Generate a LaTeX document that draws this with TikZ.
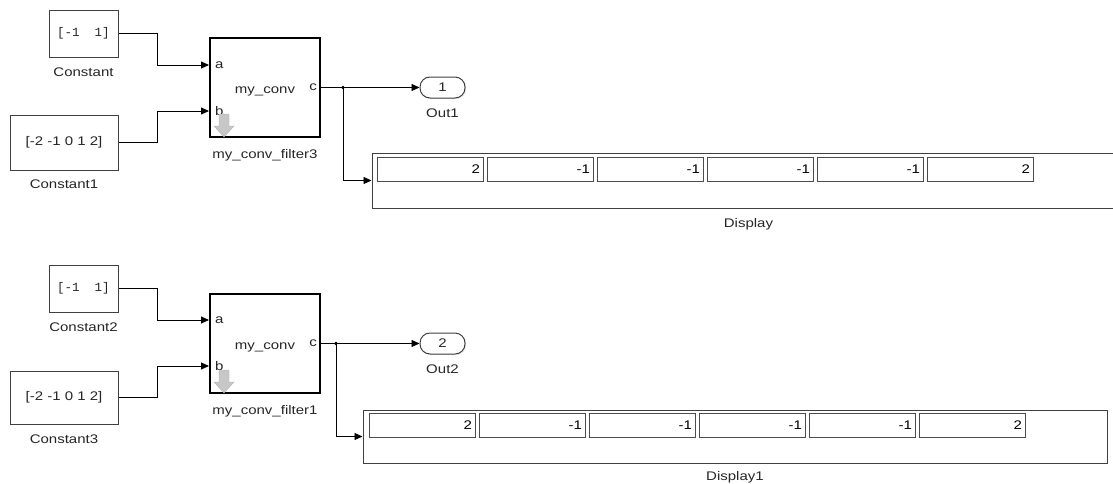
\documentclass[tikz,border=0pt]{standalone}
\usepackage{fontspec}
\setmainfont{Liberation Sans}[FakeStretch=1.2]
\newfontfamily\monofont{Liberation Mono}
\usetikzlibrary{arrows.meta,positioning,calc,shadows}
\newcommand{\blkfont}{\fontsize{12.5}{14}\selectfont}
\tikzset{
  blk/.style={draw=black!75,line width=1pt,fill=white,inner sep=0pt,font=\blkfont,text=black!85,
    drop shadow={opacity=0.18,shadow xshift=1.2pt,shadow yshift=-1.2pt}},
  const/.style={blk,minimum height=47pt},
  conv/.style={blk,draw=black,line width=2pt,minimum width=110pt,minimum height=99pt},
  outport/.style={blk,rounded corners=10pt,minimum width=45pt,minimum height=21pt},
  disp/.style={blk,minimum height=55pt},
  cell/.style={draw=black!70,line width=1pt,fill=white,inner sep=3pt,text width=100pt,align=right,
    minimum height=24pt,font=\blkfont},
  lbl/.style={font=\blkfont,text=black!85,inner sep=0pt,text height=9pt,text depth=2.5pt},
  port/.style={font=\blkfont,text=black!85,inner sep=0pt},
  wire/.style={-{Triangle[length=8pt,width=7pt]},line width=0.9pt},
  line/.style={line width=0.9pt},
  icon/.style={fill=black!22,draw=black!30,line width=0.4pt}
}
% grey arrow glyph in the corner of a block
\newcommand{\convicon}[1]{%
  \filldraw[icon] ($(#1.south west)+(10,-24)$) -- ++(10,0) -- ++(0,12) -- ++(5,0)
    -- ++(-10,11) -- ++(-10,-11) -- ++(5,0) -- cycle;}

\begin{document}
\begin{tikzpicture}[x=1pt,y=-1pt]
  \clip (0,0) rectangle (1113,483);

  % upper model
  \node[const,minimum width=69pt,label={[lbl,label distance=9.5pt]below:Constant}] (c0) at (83.5,33.5) {\monofont\blkfont [-1\ \ 1]};
  \node[const,minimum width=108pt,minimum height=55pt,label={[lbl,label distance=8.5pt]below:Constant1}] (c1) at (64,142.5) {[-2 -1 0 1 2]};
  \node[conv,label={[lbl,label distance=11pt]below:my\_conv\_filter3}] (f3) at (265,87.5) {};
  \node[outport,label={[lbl,label distance=9.5pt]below:Out1}] (o1) at (442.5,87.5) {1};
  \node[disp,minimum width=753pt,label={[lbl,label distance=9.5pt]below:Display}] (d0) at (748.5,180.5) {};
  \foreach \v [count=\i from 0] in {2,-1,-1,-1,-1,2}
    \node[cell] (d0c\i) at ({430+110*\i},169) {\v};

  \coordinate (f3a) at ($(f3.west)+(0,-22.5)$);
  \coordinate (f3b) at ($(f3.west)+(0,23.5)$);
  \node[port,anchor=west] at ($(f3a)+(6,0)$) {a};
  \node[port,anchor=west] at ($(f3b)+(6,0)$) {b};
  \node[port,anchor=east] at ($(f3.east)+(-4,0)$) {c};
  \node[port,anchor=base] at ($(f3.center)+(0,6)$) {my\_conv};
  \convicon{f3}

  \draw[wire] (c0.east) -- ++(39,0) |- (f3a);
  \draw[wire] (c1.east) -- ++(39,0) |- (f3b);
  \coordinate (br0) at ($(f3.east)+(22,0)$);
  \draw[line] (f3.east) -- (br0);
  \draw[wire] (br0) -- (o1.west);
  \draw[wire] (br0) |- (d0.west);
  \fill (br0) circle (1.8pt);

  % lower model
  \node[const,minimum width=69pt,label={[lbl,label distance=9.5pt]below:Constant2}] (c2) at (83.5,288.5) {\monofont\blkfont [-1\ \ 1]};
  \node[const,minimum width=108pt,minimum height=53pt,label={[lbl,label distance=9.5pt]below:Constant3}] (c3) at (64,397.5) {[-2 -1 0 1 2]};
  \node[conv,label={[lbl,label distance=11pt]below:my\_conv\_filter1}] (f1) at (265,343.5) {};
  \node[outport,label={[lbl,label distance=9.5pt]below:Out2}] (o2) at (442.5,343.5) {2};
  \node[disp,minimum width=744pt,minimum height=53pt,label={[lbl,label distance=8pt]below:Display1}] (d1) at (735,436.5) {};
  \foreach \v [count=\i from 0] in {2,-1,-1,-1,-1,2}
    \node[cell] (d1c\i) at ({422+110*\i},425.5) {\v};

  \coordinate (f1a) at ($(f1.west)+(0,-23.5)$);
  \coordinate (f1b) at ($(f1.west)+(0,22.5)$);
  \node[port,anchor=west] at ($(f1a)+(6,0)$) {a};
  \node[port,anchor=west] at ($(f1b)+(6,0)$) {b};
  \node[port,anchor=east] at ($(f1.east)+(-4,0)$) {c};
  \node[port,anchor=base] at ($(f1.center)+(0,6)$) {my\_conv};
  \convicon{f1}

  \draw[wire] (c2.east) -- ++(39,0) |- (f1a);
  \draw[wire] (c3.east) -- ++(39,0) |- (f1b);
  \coordinate (br1) at ($(f1.east)+(15,0)$);
  \draw[line] (f1.east) -- (br1);
  \draw[wire] (br1) -- (o2.west);
  \draw[wire] (br1) |- (d1.west);
  \fill (br1) circle (1.8pt);

\end{tikzpicture}
\end{document}
